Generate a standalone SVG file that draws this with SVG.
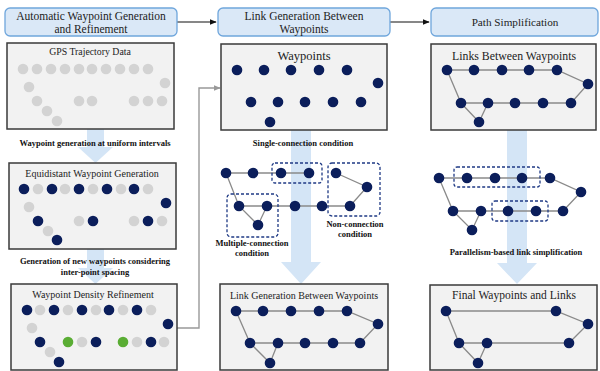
<svg xmlns="http://www.w3.org/2000/svg" width="600" height="371" viewBox="0 0 600 371" font-family="'Liberation Serif', 'Times New Roman', serif">
<defs>
<marker id="ah" viewBox="0 0 10 10" refX="9" refY="5" markerWidth="6" markerHeight="6" orient="auto"><path d="M0,1 L10,5 L0,9 z" fill="#111"/></marker>
<marker id="ahg" viewBox="0 0 10 10" refX="9" refY="5" markerWidth="5" markerHeight="5" orient="auto"><path d="M0,1 L10,5 L0,9 z" fill="#999"/></marker>
<style>
.hdr{fill:#dae8f7;stroke:#6fa6dc;stroke-width:1.3}
.box{fill:#f2f2f2;stroke:#3a3a3a;stroke-width:1.5}
text{font-family:'Liberation Serif','Times New Roman',serif}
.ht{font-size:11.5px;fill:#222;text-anchor:middle}
.bt{font-size:10px;fill:#222;text-anchor:middle}
.lb{font-size:8.5px;font-weight:bold;fill:#111;text-anchor:middle}
.barrow{fill:#d4e5f6}
.g{fill:#d3d3d3}
.n{fill:#0b1e5b}
.gr{fill:#5aad34}
.e{stroke:#8a8a8a;stroke-width:1.3;fill:none}
.dash{fill:none;stroke:#1f3a85;stroke-width:1.3;stroke-dasharray:3 2}
</style>
</defs>

<!-- block arrows -->
<g id="flow-arrows">
<polygon class="barrow" points="87,129 104,129 104,147 113,147 95.5,163 78,147 87,147"/>
<polygon class="barrow" points="87,249 104,249 104,268 113,268 95.5,284 78,268 87,268"/>
<polygon class="barrow" points="291,130 311,130 311,262 321,262 301,284 281,262 291,262"/>
<polygon class="barrow" points="507,130 527,130 527,263 537,263 517,284 497,263 507,263"/>
</g>

<g id="connectors">
<line x1="177" y1="22" x2="216" y2="22" stroke="#111" stroke-width="1.2" marker-end="url(#ah)"/>
<line x1="390" y1="22" x2="429" y2="22" stroke="#111" stroke-width="1.2" marker-end="url(#ah)"/>
<polyline points="177,328 199,328 199,88 220,88" fill="none" stroke="#999" stroke-width="1.4" marker-end="url(#ahg)"/>
</g>

<!-- headers -->
<g id="hdr1"><rect class="hdr" x="5" y="8" width="172" height="28" rx="5"/>
<text class="ht" x="91" y="20">Automatic Waypoint Generation</text>
<text class="ht" x="91" y="33">and Refinement</text></g>
<g id="hdr2"><rect class="hdr" x="218" y="8" width="172" height="28" rx="5"/>
<text class="ht" x="304" y="20">Link Generation Between</text>
<text class="ht" x="304" y="33">Waypoints</text></g>
<g id="hdr3"><rect class="hdr" x="431" y="8" width="167" height="28" rx="5"/>
<text class="ht" x="515" y="26" style="font-size:11.2px">Path Simplification</text></g>

<!-- GPS box -->
<g id="gps"><rect class="box" x="7" y="43" width="167" height="86"/>
<text class="bt" x="90" y="55" style="font-size:9.8px">GPS Trajectory Data</text>
<g class="g">
<circle cx="23" cy="69" r="5.3"/><circle cx="37" cy="69" r="5.3"/><circle cx="51" cy="69" r="5.3"/><circle cx="65" cy="69" r="5.3"/><circle cx="79" cy="69" r="5.3"/><circle cx="92" cy="69" r="5.3"/><circle cx="106" cy="69" r="5.3"/><circle cx="120" cy="69" r="5.3"/><circle cx="134" cy="69" r="5.3"/><circle cx="148" cy="69" r="5.3"/>
<circle cx="29" cy="87" r="5.3"/><circle cx="165" cy="83" r="5.3"/>
<circle cx="37" cy="101" r="5.3"/><circle cx="79" cy="101" r="5.3"/><circle cx="92" cy="101" r="5.3"/><circle cx="134" cy="101" r="5.3"/><circle cx="148" cy="101" r="5.3"/><circle cx="162" cy="101" r="5.3"/>
<circle cx="47" cy="111" r="5.3"/><circle cx="57" cy="121" r="5.3"/>
</g></g>
<text class="lb" x="95" y="146">Waypoint generation at uniform intervals</text>

<!-- Equidistant box -->
<g id="equi"><rect class="box" x="9" y="163" width="167" height="86"/>
<text class="bt" x="92" y="177">Equidistant Waypoint Generation</text>
<g class="g">
<circle cx="38" cy="189" r="5.3"/><circle cx="65" cy="189" r="5.3"/><circle cx="93" cy="189" r="5.3"/><circle cx="121" cy="189" r="5.3"/><circle cx="148" cy="189" r="5.3"/>
<circle cx="29" cy="207" r="5.3"/>
<circle cx="79" cy="221" r="5.3"/><circle cx="134" cy="221" r="5.3"/><circle cx="162" cy="221" r="5.3"/>
<circle cx="48" cy="231" r="5.3"/>
</g>
<g class="n">
<circle cx="24" cy="189" r="5.3"/><circle cx="52" cy="189" r="5.3"/><circle cx="79" cy="189" r="5.3"/><circle cx="107" cy="189" r="5.3"/><circle cx="134" cy="189" r="5.3"/>
<circle cx="166" cy="203" r="5.3"/>
<circle cx="38" cy="221" r="5.3"/><circle cx="93" cy="221" r="5.3"/><circle cx="148" cy="221" r="5.3"/>
<circle cx="57" cy="240" r="5.3"/>
</g></g>
<text class="lb" x="95" y="264">Generation of new waypoints considering</text>
<text class="lb" x="95" y="275">inter-point spacing</text>

<!-- Density box -->
<g id="density"><rect class="box" x="11" y="284" width="166" height="86"/>
<text class="bt" x="93" y="298">Waypoint Density Refinement</text>
<g class="g">
<circle cx="40" cy="310" r="5.3"/><circle cx="68" cy="310" r="5.3"/><circle cx="96" cy="310" r="5.3"/><circle cx="123" cy="310" r="5.3"/><circle cx="151" cy="310" r="5.3"/>
<circle cx="32" cy="328" r="5.3"/>
<circle cx="82" cy="342" r="5.3"/><circle cx="137" cy="342" r="5.3"/><circle cx="164" cy="342" r="5.3"/>
<circle cx="50" cy="352" r="5.3"/>
</g>
<g class="n">
<circle cx="27" cy="310" r="5.3"/><circle cx="54" cy="310" r="5.3"/><circle cx="82" cy="310" r="5.3"/><circle cx="109" cy="310" r="5.3"/><circle cx="137" cy="310" r="5.3"/>
<circle cx="168" cy="324" r="5.3"/>
<circle cx="40" cy="342" r="5.3"/><circle cx="96" cy="342" r="5.3"/><circle cx="151" cy="342" r="5.3"/>
<circle cx="59" cy="362" r="5.3"/>
</g>
<g class="gr"><circle cx="68" cy="342" r="5.3"/><circle cx="123" cy="342" r="5.3"/></g>
</g>

<!-- Waypoints box -->
<g id="waypoints"><rect class="box" x="221" y="44" width="166" height="86"/>
<text class="bt" x="304" y="60" style="font-size:12.5px">Waypoints</text>
<g class="n">
<circle cx="237" cy="70" r="5.3"/><circle cx="264" cy="70" r="5.3"/><circle cx="291" cy="70" r="5.3"/><circle cx="319" cy="70" r="5.3"/><circle cx="347" cy="70" r="5.3"/>
<circle cx="378" cy="83" r="5.3"/>
<circle cx="251" cy="102" r="5.3"/><circle cx="278" cy="102" r="5.3"/><circle cx="305" cy="102" r="5.3"/><circle cx="333" cy="102" r="5.3"/><circle cx="361" cy="102" r="5.3"/>
<circle cx="270" cy="122" r="5.3"/>
</g></g>
<text class="lb" x="303" y="146">Single-connection condition</text>

<!-- Link conditions graph -->
<g id="conditions">
<g class="e">
<polyline points="226,173 253,173 281,173 309,173"/>
<polyline points="336,173 367,187 350,206"/>
<polyline points="226,173 239,206 258,225 267,206"/>
<polyline points="239,206 267,206 295,206 322,206 350,206"/>
</g>
<g class="n">
<circle cx="226" cy="173" r="5.3"/><circle cx="253" cy="173" r="5.3"/><circle cx="281" cy="173" r="5.3"/><circle cx="309" cy="173" r="5.3"/><circle cx="336" cy="173" r="5.3"/>
<circle cx="367" cy="187" r="5.3"/>
<circle cx="239" cy="206" r="5.3"/><circle cx="267" cy="206" r="5.3"/><circle cx="295" cy="206" r="5.3"/><circle cx="322" cy="206" r="5.3"/><circle cx="350" cy="206" r="5.3"/>
<circle cx="258" cy="225" r="5.3"/>
</g>
<rect class="dash" x="272" y="163" width="50" height="20" rx="3"/>
<rect class="dash" x="328" y="163" width="52" height="53" rx="4"/>
<rect class="dash" x="227" y="194" width="51" height="43" rx="4"/>
<text class="lb" x="355" y="227">Non-connection</text>
<text class="lb" x="355" y="237">condition</text>
<text class="lb" x="252" y="246">Multiple-connection</text>
<text class="lb" x="252" y="256">condition</text>
</g>

<!-- Link Generation box -->
<g id="linkgen"><rect class="box" x="220" y="284" width="168" height="86"/>
<text class="bt" x="304" y="299">Link Generation Between Waypoints</text>
<g class="e">
<polyline points="236,311 263,311 291,311 319,311 347,311 378,324 360,343 333,343 305,343 278,343 250,343 236,311"/>
<polyline points="250,343 270,363 278,343"/>
</g>
<g class="n">
<circle cx="236" cy="311" r="5.3"/><circle cx="263" cy="311" r="5.3"/><circle cx="291" cy="311" r="5.3"/><circle cx="319" cy="311" r="5.3"/><circle cx="347" cy="311" r="5.3"/>
<circle cx="378" cy="324" r="5.3"/>
<circle cx="250" cy="343" r="5.3"/><circle cx="278" cy="343" r="5.3"/><circle cx="305" cy="343" r="5.3"/><circle cx="333" cy="343" r="5.3"/><circle cx="360" cy="343" r="5.3"/>
<circle cx="270" cy="363" r="5.3"/>
</g></g>

<!-- Links Between Waypoints box -->
<g id="links"><rect class="box" x="431" y="44" width="165" height="86"/>
<text class="bt" x="514" y="60" style="font-size:11.8px">Links Between Waypoints</text>
<g class="e">
<polyline points="447,70 474,70 502,70 529,70 557,70 588,84 571,103 543,103 515,103 488,103 461,103 447,70"/>
<polyline points="461,103 479,122 488,103"/>
</g>
<g class="n">
<circle cx="447" cy="70" r="5.3"/><circle cx="474" cy="70" r="5.3"/><circle cx="502" cy="70" r="5.3"/><circle cx="529" cy="70" r="5.3"/><circle cx="557" cy="70" r="5.3"/>
<circle cx="588" cy="84" r="5.3"/>
<circle cx="461" cy="103" r="5.3"/><circle cx="488" cy="103" r="5.3"/><circle cx="515" cy="103" r="5.3"/><circle cx="543" cy="103" r="5.3"/><circle cx="571" cy="103" r="5.3"/>
<circle cx="479" cy="122" r="5.3"/>
</g></g>

<!-- Parallelism graph -->
<g id="parallel">
<g class="e">
<polyline points="439,178 467,178 495,178 522,178 550,178 581,192 563,211 536,211 508,211 481,211 453,211 439,178"/>
<polyline points="453,211 472,230 481,211"/>
</g>
<g class="n">
<circle cx="439" cy="178" r="5.3"/><circle cx="467" cy="178" r="5.3"/><circle cx="495" cy="178" r="5.3"/><circle cx="522" cy="178" r="5.3"/><circle cx="550" cy="178" r="5.3"/>
<circle cx="581" cy="192" r="5.3"/>
<circle cx="453" cy="211" r="5.3"/><circle cx="481" cy="211" r="5.3"/><circle cx="508" cy="211" r="5.3"/><circle cx="536" cy="211" r="5.3"/><circle cx="563" cy="211" r="5.3"/>
<circle cx="472" cy="230" r="5.3"/>
</g>
<rect class="dash" x="454" y="167" width="86" height="20" rx="3"/>
<rect class="dash" x="492" y="201" width="56" height="20" rx="3"/>
<text class="lb" x="516" y="255">Parallelism-based link simplification</text>
</g>

<!-- Final box -->
<g id="final"><rect class="box" x="430" y="285" width="167" height="85"/>
<text class="bt" x="514" y="299" style="font-size:11.5px">Final Waypoints and Links</text>
<g class="e">
<polyline points="446,311 556,311 588,324 569,343 487,343 459,343 446,311"/>
<polyline points="459,343 478,363 487,343"/>
</g>
<g class="n">
<circle cx="446" cy="311" r="5.3"/><circle cx="556" cy="311" r="5.3"/><circle cx="588" cy="324" r="5.3"/>
<circle cx="569" cy="343" r="5.3"/><circle cx="487" cy="343" r="5.3"/><circle cx="459" cy="343" r="5.3"/>
<circle cx="478" cy="363" r="5.3"/>
</g></g>
</svg>
